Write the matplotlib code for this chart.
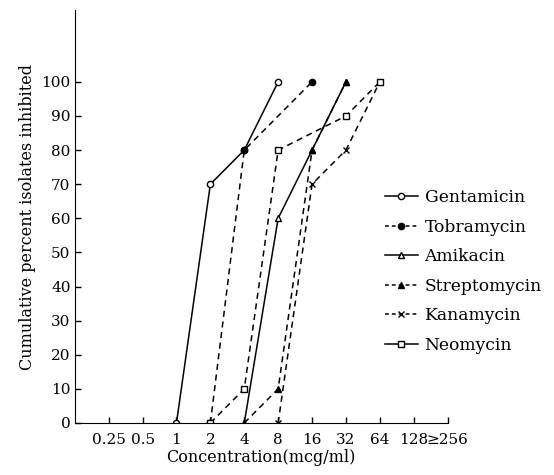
import matplotlib.pyplot as plt
from matplotlib.lines import Line2D

plt.rcParams['font.family'] = ['DejaVu Serif', 'DejaVu Sans']

# x positions are ordinal ticks: 0.25, 0.5, 1, 2, 4, 8, 16, 32, 64, 128, >=256
tick_labels = ['0.25', '0.5', '1', '2', '4', '8', '16', '32', '64', '128', '≥256']
conc_index = {lab: i + 1 for i, lab in enumerate(tick_labels)}

gent_x = ['1', '2', '4', '8']
gent_y = [0, 70, 80, 100]
tobra_x = ['2', '4', '16']
tobra_y = [0, 80, 100]
amik_x = ['4', '8', '16', '32']
amik_y = [0, 60, 80, 100]
strep_x = ['4', '8', '16', '32']
strep_y = [0, 10, 80, 100]
kana_x = ['8', '16', '32', '64']
kana_y = [0, 70, 80, 100]
neo_x = ['2', '4', '8', '32', '64']
neo_y = [0, 10, 80, 90, 100]

series = [
    ('Gentamicin', gent_x, gent_y, '-', 'o', 'white'),
    ('Tobramycin', tobra_x, tobra_y, '--', 'o', 'black'),
    ('Amikacin', amik_x, amik_y, '-', '^', 'white'),
    ('Streptomycin', strep_x, strep_y, '--', '^', 'black'),
    ('Kanamycin', kana_x, kana_y, '--', 'x', 'black'),
    ('Neomycin', neo_x, neo_y, '--', 's', 'white'),
]
legend_styles = ['-', '--', '-', '--', '--', '-']

fig = plt.figure(figsize=(5.54, 4.75), dpi=100)
ax = fig.add_axes([0.135, 0.1095, 0.673, 0.869])

handles = []
for (name, xs, ys, ls, mk, fc), lls in zip(series, legend_styles):
    xi = [conc_index[v] for v in xs]
    kw = dict(color='black', lw=1.1, marker=mk, markersize=4.5,
              markerfacecolor=fc, markeredgecolor='black', markeredgewidth=1)
    if ls == '--':
        ax.plot(xi, ys, linestyle=(0, (4, 3)), **kw)
    else:
        ax.plot(xi, ys, linestyle='-', **kw)
    h_ls = (0, (2.5, 2)) if lls == '--' else '-'
    handles.append(Line2D([0], [0], linestyle=h_ls, label=name, **kw))

ax.set_xlim(0, 11)
ax.set_ylim(0, 121)
ax.set_xticks(range(1, 12))
ax.set_xticklabels(tick_labels)
ax.set_yticks(range(0, 101, 10))
ax.tick_params(direction='in', length=4, labelsize=11, width=1)
ax.tick_params(axis='x', pad=7)
ax.tick_params(axis='y', pad=3)
ax.spines['top'].set_visible(False)
ax.spines['right'].set_visible(False)
ax.set_xlabel('Concentration(mcg/ml)', fontsize=11.5, labelpad=2)
ax.set_ylabel('Cumulative percent isolates inhibited', fontsize=11.5, labelpad=4)

fig.legend(handles=handles, loc='upper left', bbox_to_anchor=(0.683, 0.616),
           frameon=False, fontsize=12.3, handlelength=1.9, handletextpad=0.4,
           labelspacing=0.73, borderaxespad=0)

fig.savefig('out.png', dpi=100)
